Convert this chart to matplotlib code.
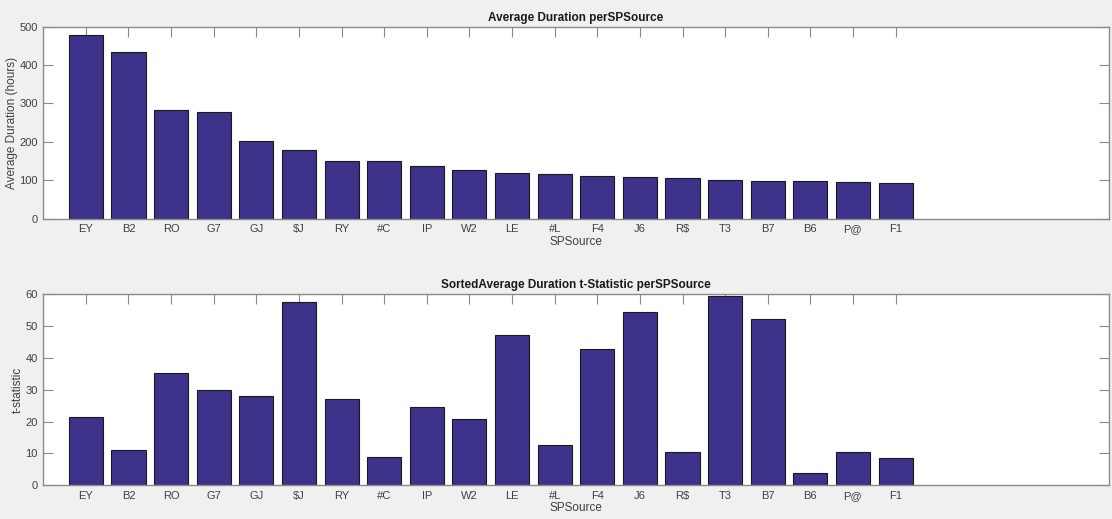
import numpy as np
import matplotlib.pyplot as plt

sources = ['EY', 'B2', 'RO', 'G7', 'GJ', '$J', 'RY', '#C', 'IP', 'W2',
           'LE', '#L', 'F4', 'J6', 'R$', 'T3', 'B7', 'B6', 'P@', 'F1']
avg_duration = [479, 434, 283, 278, 202, 180, 151, 150, 137, 126,
                119, 116, 111, 109, 105, 100, 97.5, 97, 96, 92]
t_stat = [21.4, 11.2, 35.1, 29.8, 28.0, 57.5, 27.2, 8.9, 24.7, 20.9,
          47.2, 12.5, 42.6, 54.5, 10.3, 59.4, 52.1, 4.0, 10.6, 8.6]

plt.rcParams['font.family'] = ['Liberation Sans', 'DejaVu Sans']
plt.rcParams['mathtext.default'] = 'regular'

bar_color = '#3d338b'
text_color = '#404040'
axis_color = '#8a8a8a'

fig = plt.figure(figsize=(11.12, 5.19), dpi=100, facecolor='#f0f0f0')
ax1 = fig.add_axes([0.0389, 0.5786, 0.9581, 0.3700])
ax2 = fig.add_axes([0.0389, 0.0649, 0.9581, 0.3686])

x = np.arange(1, len(sources) + 1)
# '$' in labels would trigger mathtext, so escape it
labels = [s.replace('$', r'\$') for s in sources]

panels = [
    (ax1, avg_duration, 'Average Duration perSPSource', 'Average Duration (hours)', 500, 100),
    (ax2, t_stat, 'SortedAverage Duration t-Statistic perSPSource', 't-statistic', 60, 10),
]

for ax, vals, title, ylab, ymax, step in panels:
    ax.bar(x, vals, width=0.8, color=bar_color, edgecolor='#1a1a1a', linewidth=0.8, zorder=2)
    ax.set_xlim(0, 25)
    ax.set_ylim(0, ymax)
    ax.set_xticks(x)
    ax.set_xticklabels(labels)
    ax.set_yticks(np.arange(0, ymax + 1, step))
    ax.tick_params(direction='in', length=7.5, width=0.8, color=axis_color,
                   labelcolor=text_color, labelsize=8, top=True, right=True,
                   labeltop=False, labelright=False, pad=4)
    for sp in ax.spines.values():
        sp.set_color(axis_color)
        sp.set_linewidth(1.0)
    ax.set_facecolor('white')
    ax.set_title(title, fontsize=8.5, fontweight='bold', color='#1a1a1a', pad=4)
    ax.set_xlabel('SPSource', fontsize=8.5, color=text_color, labelpad=1)
    ax.set_ylabel(ylab, fontsize=8.5, color=text_color, labelpad=1)

fig.savefig('out.png', dpi=100, facecolor=fig.get_facecolor())
